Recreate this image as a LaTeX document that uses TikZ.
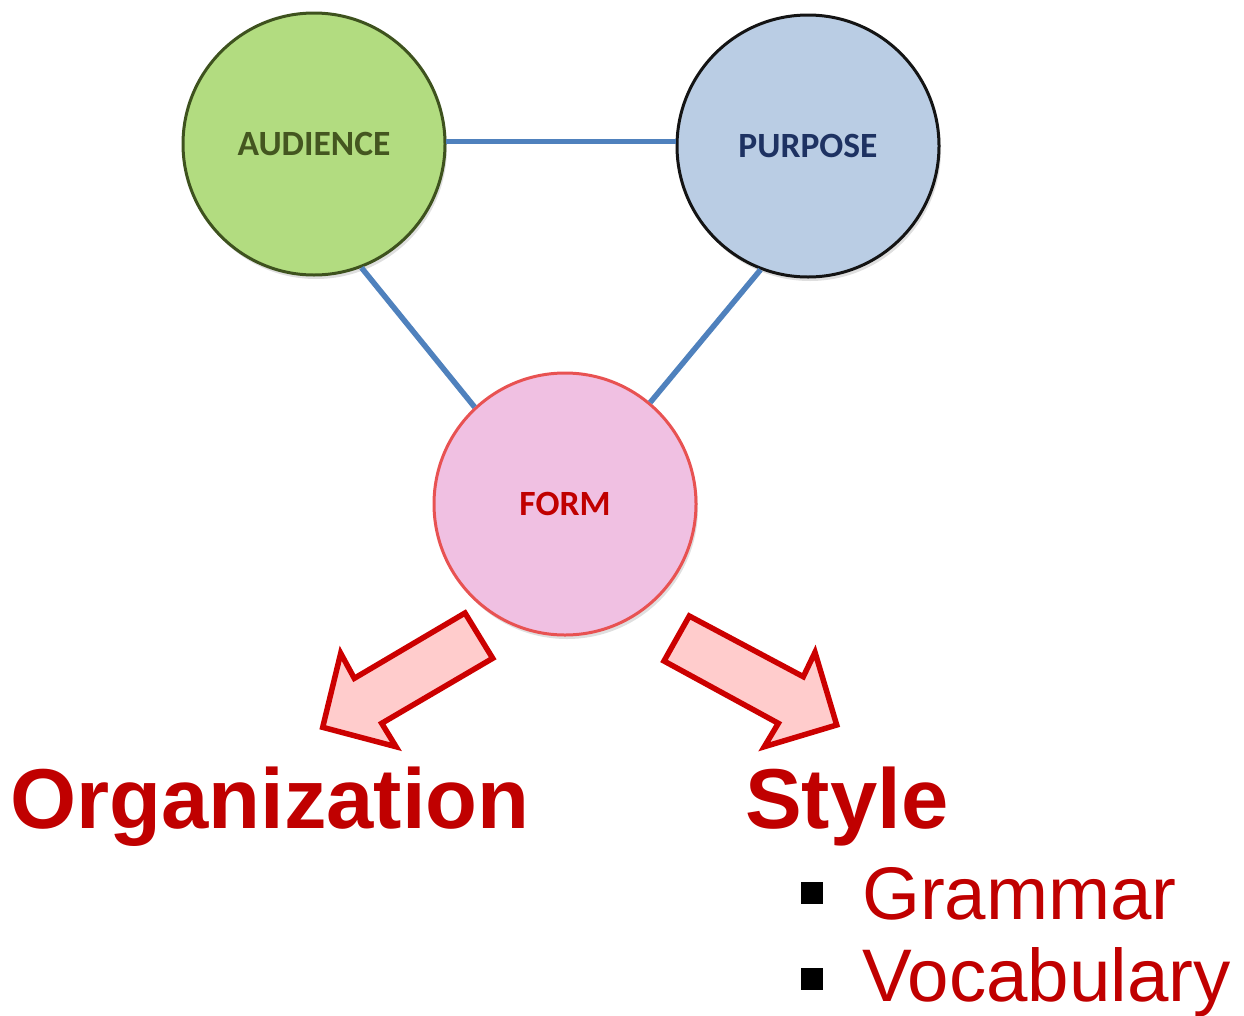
\documentclass[tikz,border=0pt]{standalone}
\usepackage{fontspec}
\setmainfont{Liberation Sans}
\newfontfamily\calib{Carlito}
\usetikzlibrary{shadows}
\definecolor{audfill}{RGB}{178,220,128}
\definecolor{audline}{RGB}{62,82,30}
\definecolor{audtext}{RGB}{68,86,32}
\definecolor{purfill}{RGB}{186,205,228}
\definecolor{purline}{RGB}{20,20,20}
\definecolor{purtext}{RGB}{30,50,98}
\definecolor{formfill}{RGB}{240,192,226}
\definecolor{formline}{RGB}{232,82,82}
\definecolor{formtext}{RGB}{192,0,0}
\definecolor{linkblue}{RGB}{79,129,189}
\definecolor{arrfill}{RGB}{255,204,204}
\definecolor{arrline}{RGB}{204,0,0}
\definecolor{txtred}{RGB}{192,0,0}
\tikzset{
  bubble/.style={circle, minimum size=262pt, inner sep=0pt, line width=3pt,
    drop shadow={shadow xshift=2pt, shadow yshift=-4pt, opacity=0.25},
    font=\calib\bfseries\fontsize{35.5}{40}\selectfont},
  link/.style={linkblue, line width=5.5pt},
  blockarrow/.style={fill=arrfill, draw=arrline, line width=5.5pt, line join=miter},
  bigtitle/.style={anchor=base west, inner sep=0pt, text=txtred, font=\bfseries\fontsize{85}{90}\selectfont},
  itemtext/.style={anchor=base west, inner sep=0pt, text=txtred, font=\fontsize{74.5}{80}\selectfont},
  bulletsq/.style={fill=black, draw=none}
}
\begin{document}
\begin{tikzpicture}[x=1pt,y=-1pt]
\useasboundingbox (0,0) rectangle (1244,1015);
\node[bubble, fill=audfill, draw=audline, text=audtext] (aud) at (314,144) {AUDIENCE};
\node[bubble, fill=purfill, draw=purline, text=purtext] (pur) at (808,146) {PURPOSE};
\node[bubble, fill=formfill, draw=formline, text=formtext] (form) at (565,504) {FORM};
\draw[link] (aud.1) -- (aud.1 -| pur.west);
\draw[link] (aud.-69) -- (form.133);
\draw[link] (pur.-111) -- (form.50);
% block arrows
\draw[blockarrow] (465,613) -- (492.7,658.3) -- (381.7,723.3) -- (396,746.7) -- (322.7,727.3) -- (340.7,653.3) -- (354.3,678.3) -- cycle;
\draw[blockarrow] (689.3,616) -- (664,661) -- (778.3,723.3) -- (764.3,746.7) -- (836.7,725) -- (815,652.3) -- (803.3,676.7) -- cycle;
% texts
\node[bigtitle] (org) at (10,828) {Organization};
\node[bigtitle] (sty) at (745,828) {Style};
\fill[bulletsq] (801,882) rectangle (823,904);
\fill[bulletsq] (801,968) rectangle (823,990);
\node[itemtext] (gram) at (862,919) {Grammar};
\node[itemtext] (voc) at (862,1001) {Vocabulary};
\end{tikzpicture}
\end{document}
